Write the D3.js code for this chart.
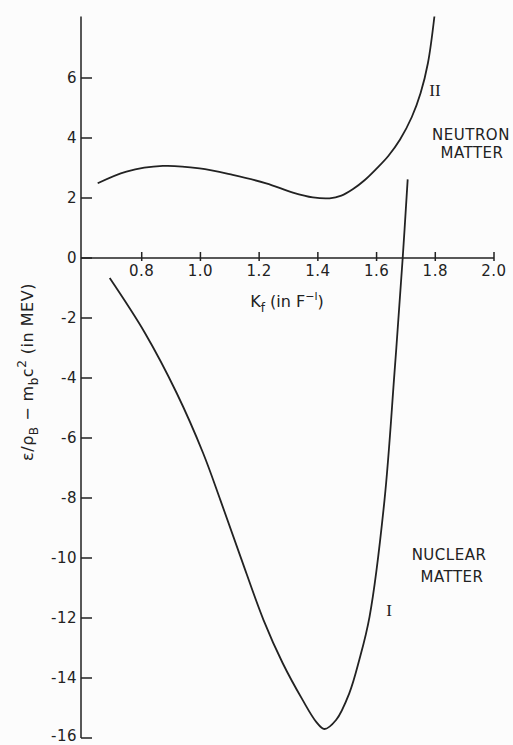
<!DOCTYPE html>
<html>
<head>
<meta charset="utf-8">
<script src="https://cdn.jsdelivr.net/npm/d3@7"></script>
<style>
  body { margin: 0; background: #fcfcfc; }
  text { font-family: "DejaVu Sans", "Liberation Sans", sans-serif; fill: #222; }
</style>
</head>
<body>
<script>
const w = 513;
const h = 745;

// tick labels
const xTicks = [0.8, 1.0, 1.2, 1.4, 1.6, 1.8, 2.0];
const yTicks = [6, 4, 2, 0, -2, -4, -6, -8, -10, -12, -14, -16];

// curve II - neutron matter (kf, energy)
const neutronKf = [0.65, 0.748, 0.872, 0.997, 1.11, 1.224, 1.315, 1.383, 1.44, 1.48, 1.52, 1.56, 1.60, 1.64, 1.68, 1.72, 1.75, 1.775, 1.797];
const neutronE  = [2.49, 2.88, 3.07, 2.99, 2.77, 2.49, 2.18, 2.02, 1.99, 2.08, 2.3, 2.6, 2.98, 3.4, 3.95, 4.7, 5.5, 6.5, 8.05];

// curve I - nuclear matter
const nuclearKf = [0.691, 0.811, 0.919, 1.009, 1.068, 1.137, 1.215, 1.28, 1.348, 1.395, 1.422, 1.462, 1.507, 1.541, 1.576, 1.627, 1.661, 1.689, 1.706];
const nuclearE  = [-0.67, -2.5, -4.5, -6.5, -8.07, -9.97, -12.07, -13.5, -14.73, -15.47, -15.7, -15.4, -14.51, -13.4, -11.96, -8.07, -3.83, 0, 2.62];

const svg = d3.select('body')
  .append('svg')
  .attr('width', w)
  .attr('height', h)
  .style("background-color", "#fcfcfc");

const x = d3.scaleLinear().domain([0.6, 2.0]).range([83, 494]);
const y = d3.scaleLinear().domain([-16, 8]).range([738, 18]);

const ink = "#222";

// y axis
svg.append("line")
  .attr("x1", x(0.6) - 2).attr("x2", x(0.6) - 2)
  .attr("y1", y(8.05)).attr("y2", y(-16))
  .attr("stroke", ink).attr("stroke-width", 1.5);

svg.append("g")
  .selectAll("line")
  .data(yTicks)
  .enter()
  .append("line")
  .attr("x1", x(0.6) - 2).attr("x2", x(0.6) + 9)
  .attr("y1", d => y(d)).attr("y2", d => y(d))
  .attr("stroke", ink).attr("stroke-width", 1.5);

svg.append("g")
  .selectAll("text")
  .data(yTicks)
  .enter()
  .append("text")
  .attr("x", 77)
  .attr("y", d => Math.min(y(d) + 5, 741))
  .attr("text-anchor", "end")
  .style("font-size", "15px")
  .style("letter-spacing", "0.5px")
  .text(d => d < 0 ? "-" + Math.abs(d) : d);

// x axis along 0
svg.append("line")
  .attr("x1", x(0.6) - 2).attr("x2", x(2.0))
  .attr("y1", y(0)).attr("y2", y(0))
  .attr("stroke", ink).attr("stroke-width", 1.5);

svg.append("g")
  .selectAll("line")
  .data(xTicks)
  .enter()
  .append("line")
  .attr("x1", d => x(d)).attr("x2", d => x(d))
  .attr("y1", y(0) - 6).attr("y2", y(0) + 3)
  .attr("stroke", ink).attr("stroke-width", 1.5);

svg.append("g")
  .selectAll("text")
  .data(xTicks)
  .enter()
  .append("text")
  .attr("x", d => x(d))
  .attr("y", y(0) + 18)
  .attr("text-anchor", "middle")
  .style("font-size", "15px")
  .style("letter-spacing", "0.5px")
  .text(d => d.toFixed(1));

// x axis title
const xt = svg.append("text")
  .attr("x", 287)
  .attr("y", 307)
  .attr("text-anchor", "middle")
  .style("font-size", "16px");
xt.append("tspan").text("K");
xt.append("tspan").attr("dy", 5).style("font-size", "12px").text("f");
xt.append("tspan").attr("dy", -5).text(" (in F");
xt.append("tspan").attr("dy", -7).style("font-size", "11px").text("\u2212l");
xt.append("tspan").attr("dy", 7).text(")");

// y axis title (rotated)
const yt = svg.append("text")
  .attr("transform", "translate(33,372) rotate(-90)")
  .attr("text-anchor", "middle")
  .style("font-size", "16px")
  .style("letter-spacing", "0.5px");
yt.append("tspan").text("\u03b5/\u03c1");
yt.append("tspan").attr("dy", 5).style("font-size", "12px").text("B");
yt.append("tspan").attr("dy", -5).text(" \u2212 m");
yt.append("tspan").attr("dy", 5).style("font-size", "12px").text("b");
yt.append("tspan").attr("dy", -5).text("c");
yt.append("tspan").attr("dy", -7).style("font-size", "12px").text("2");
yt.append("tspan").attr("dy", 7).text(" (in MEV)");

// curves
const line = d3.line()
  .x(d => x(d[0]))
  .y(d => y(d[1]))
  .curve(d3.curveCatmullRom.alpha(0.5));

const neutron = d3.zip(neutronKf, neutronE);
const nuclear = d3.zip(nuclearKf, nuclearE);

[neutron, nuclear].forEach(function (pts) {
  svg.append("path")
    .datum(pts)
    .attr("d", line)
    .attr("fill", "none")
    .attr("stroke", ink)
    .attr("stroke-width", 1.8);
});

// curve labels
svg.append("text")
  .attr("x", 435).attr("y", 96)
  .attr("text-anchor", "middle")
  .style("font-family", "Liberation Serif, serif")
  .style("font-size", "17px")
  .text("II");

svg.append("text")
  .attr("x", 389).attr("y", 616)
  .attr("text-anchor", "middle")
  .style("font-family", "Liberation Serif, serif")
  .style("font-size", "17px")
  .text("I");

svg.append("text").attr("x", 471).attr("y", 140)
  .attr("text-anchor", "middle").style("font-size", "15px").style("letter-spacing", "0.5px").text("NEUTRON");
svg.append("text").attr("x", 472).attr("y", 158)
  .attr("text-anchor", "middle").style("font-size", "15px").style("letter-spacing", "0.5px").text("MATTER");

svg.append("text").attr("x", 449).attr("y", 560)
  .attr("text-anchor", "middle").style("font-size", "15px").style("letter-spacing", "0.5px").text("NUCLEAR");
svg.append("text").attr("x", 452).attr("y", 582)
  .attr("text-anchor", "middle").style("font-size", "15px").style("letter-spacing", "0.5px").text("MATTER");
</script>
</body>
</html>
